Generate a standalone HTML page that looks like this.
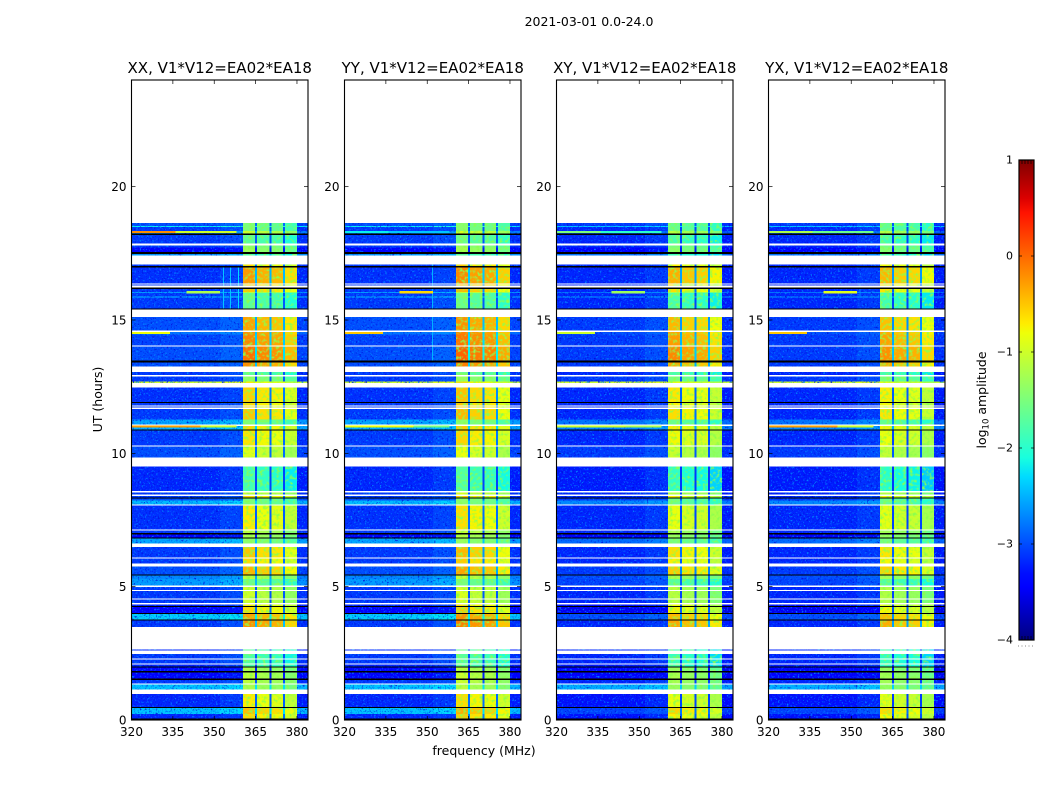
<!DOCTYPE html>
<html>
<head>
<meta charset="utf-8">
<title>Amplitude waterfall 2021-03-01</title>
<style>
html,body{margin:0;padding:0;background:#fff;width:1050px;height:800px;overflow:hidden}
svg{display:block}
text{font-family:"DejaVu Sans","Liberation Sans",sans-serif;fill:#000}
</style>
</head>
<body>
<svg id="fig" xmlns="http://www.w3.org/2000/svg" width="1050" height="800" viewBox="0 0 1050 800">
  <defs>
    <linearGradient id="jetGradient" x1="0" y1="1" x2="0" y2="0"></linearGradient>
    <filter id="lowNoise" filterUnits="userSpaceOnUse" x="0" y="0" width="1050" height="800" color-interpolation-filters="sRGB">
      <feTurbulence type="fractalNoise" baseFrequency="0.55" numOctaves="2" seed="7" result="t"/>
      <feColorMatrix in="t" type="matrix" values="0 0 0 0 0  0 0 0 0 0.5  0 0 0 0 1  5 0 0 0 -2.85" result="lightSpeck"/>
      <feColorMatrix in="t" type="matrix" values="0 0 0 0 0  0 0 0 0 0.05  0 0 0 0 0.85  0 4 0 0 -2.3" result="darkSpeck"/>
      <feMerge result="specks"><feMergeNode in="darkSpeck"/><feMergeNode in="lightSpeck"/></feMerge>
      <feComposite in="specks" in2="SourceAlpha" operator="in" result="clipped"/>
      <feMerge><feMergeNode in="SourceGraphic"/><feMergeNode in="clipped"/></feMerge>
    </filter>
    <filter id="bandNoise" filterUnits="userSpaceOnUse" x="0" y="0" width="1050" height="800" color-interpolation-filters="sRGB">
      <feTurbulence type="fractalNoise" baseFrequency="0.3" numOctaves="2" seed="11" result="t"/>
      <feColorMatrix in="t" type="matrix" values="0 0 0 0 0.55  0 0 0 0 1  0 0 0 0 0.3  3 0 0 0 -1.4" result="speck"/>
      <feComposite in="speck" in2="SourceAlpha" operator="in" result="clipped"/>
      <feMerge><feMergeNode in="SourceGraphic"/><feMergeNode in="clipped"/></feMerge>
    </filter>
  </defs>
  <text x="589" y="26" font-size="12.5" text-anchor="middle">2021-03-01 0.0-24.0</text>
  <text transform="translate(102,399.5) rotate(-90)" font-size="12.5" text-anchor="middle">UT (hours)</text>
  <text x="484" y="755" font-size="12.5" text-anchor="middle">frequency (MHz)</text>
  <text transform="translate(986,400) rotate(-90)" font-size="12.5" text-anchor="middle">log<tspan font-size="8.5" dy="2.5">10</tspan><tspan dy="-2.5"> amplitude</tspan></text>
</svg>
<script>
// ---- chart data -----------------------------------------------------------
const panelTitles = ['XX, V1*V12=EA02*EA18','YY, V1*V12=EA02*EA18','XY, V1*V12=EA02*EA18','YX, V1*V12=EA02*EA18'];
const xTickLabels = [320,335,350,365,380];
const yTickLabels = [0,5,10,15,20];
const colorbarTickLabels = [1,0,-1,-2,-3,-4];
const W = null;   // flagged: not plotted
const B = -9;     // zero amplitude: drawn black

// time-bin edges, hours
const timeEdges = [0,.06,.23,.45,.49,.98,1.14,1.33,1.37,1.50,1.56,
 1.79,1.83,1.96,2.01,2.08,2.12,2.26,2.31,2.48,2.61,
 2.65,3.48,3.73,3.77,3.97,4.02,4.23,4.27,4.33,4.38,
 4.51,4.55,4.83,4.87,4.98,5.05,5.28,5.42,5.46,5.75,
 5.87,6.06,6.10,6.48,6.61,6.80,6.84,6.96,7.01,7.10,
 7.15,8.04,8.09,8.24,8.30,8.34,8.40,8.45,8.54,8.58,
 9.51,9.85,10.25,10.29,10.86,10.90,10.97,11.02,11.08,11.27,
 11.66,11.71,11.76,11.80,11.89,11.92,12.46,12.64,12.70,12.89,
 12.93,13.05,13.26,13.41,13.48,14.01,14.05,14.46,14.55,14.61,
 15.11,15.39,15.44,15.84,15.89,16.01,16.05,16.16,16.22,16.30,
 16.34,16.37,16.97,17.02,17.09,17.42,17.47,17.55,17.72,17.79,
 17.87,18.19,18.24,18.34,18.48,18.52,18.63];

// log10 amplitude outside the bright band, parallel hands (XX, YY)
const lowParallel = [B,-3.2,-2.4,B,-3.2,W,-2.4,W,-3.1,B,
 -3.4,B,-3.4,B,-3.2,W,-3.1,W,-3.1,W,
 -3.2,W,-3.1,B,-2.35,B,-3.4,B,-3.2,W,
 -3.1,W,-3.1,W,-3.1,W,-2.6,-2.7,B,-3.0,
 W,-3.1,W,-3.1,W,-2.55,B,-3.4,B,-3.1,
 W,-3.15,W,-2.45,-3.0,B,-3.1,W,-3.1,W,
 -3.2,W,-3.0,W,-3.1,B,-2.5,-2.5,W,-2.55,
 -3.1,W,-3.1,W,-3.1,B,-3.15,W,-1.0,-3.1,
 W,-3.1,W,-3.0,B,-3.0,W,-3.05,-2.8,W,
 -3.0,W,B,-3.1,-2.4,-3.1,-2.6,-3.1,B,W,
 -3.1,W,-3.15,B,-3.1,W,-2.6,B,-3.4,-3.1,
 W,-3.1,B,-2.7,-3.1,-2.2,-3.0];

// log10 amplitude outside the bright band, cross hands (XY, YX)
const lowCross = [B,-3.3,-3.05,B,-3.3,W,-2.5,W,-3.2,B,
 -3.45,B,-3.45,B,-3.25,W,-3.2,W,-3.2,W,
 -3.2,W,-3.2,B,-3.0,B,-3.5,B,-3.3,W,
 -3.2,W,-3.2,W,-3.2,W,-3.05,-3.0,B,-3.1,
 W,-3.2,W,-3.2,W,-2.85,B,-3.45,B,-3.2,
 W,-3.2,W,-2.7,-3.1,B,-3.2,W,-3.2,W,
 -3.25,W,-3.1,W,-3.2,B,-2.7,-2.7,W,-2.8,
 -3.2,W,-3.2,W,-3.2,B,-3.2,W,-1.0,-3.1,
 W,-3.2,W,-3.1,B,-3.1,W,-3.1,-3.0,W,
 -3.1,W,B,-3.2,-2.6,-3.2,-2.8,-3.2,B,W,
 -3.2,W,-3.2,B,-3.2,W,-2.8,B,-3.4,-3.2,
 W,-3.2,B,-2.9,-3.2,-2.4,-3.1];

// log10 amplitude inside the bright band (XX reference, before shift)
const bandLevel = [B,-.9,-.75,B,-1.0,W,-1.5,W,-1.4,B,
 -1.4,B,-1.5,B,-2.1,W,-2.1,W,-2.1,W,
 -2.1,W,-.5,B,-.6,B,-.9,B,-1.0,W,
 -1.3,W,-1.3,W,-1.3,W,-1.9,-1.4,B,-.7,
 W,-.9,W,-.8,W,-1.7,B,-1.5,B,-1.4,
 W,-1.0,W,-1.8,-1.8,B,-.9,W,-1.3,W,
 -2.15,W,-1.2,W,-.95,B,-.9,-.9,W,-1.8,
 -.8,W,-.9,W,-.9,B,-.85,W,-1.0,-1.7,
 W,-2.0,W,-.5,B,-.35,W,-.45,-.5,W,
 -.6,W,B,-2.0,-2.0,-2.0,-1.4,-.8,B,W,
 -.8,W,-.55,B,-.9,W,-2.1,B,-1.6,-1.7,
 W,-2.0,B,-1.3,-1.8,-1.8,-1.8];

// per-polarisation shift of the bright band
const panelBandShift = [0.18,0.26,0.06,0.02];

// frequency channels, MHz: outer regions and the four sub-bands with gaps
const channelEdges = [320,352,360.4,364.8,365.5,370,370.7,375,375.7,380,384];
const channelKind = ['low','low','band','gap','band','gap','band','gap','band','low'];
const channelOffset = [0,0.1,0.12,0,0,0,-0.05,0,-0.25,-0.05];

// narrow-band interference streaks
const rfiHour = [18.29,18.29,14.5,11.0,11.0,16.03];
const rfiFrom = [320,336,320,320,345,340];
const rfiTo   = [336,358,334,345,358,352];
const rfiXX = [-0.2,-1.0,-0.8,-0.3,-1.0,-1.2];
const rfiYY = [-2.2,-2.4,-0.5,-0.8,-1.5,-0.6];
const rfiXY = [-1.5,-2.0,-1.0,-1.0,-1.2,-1.3];
const rfiYX = [-1.2,-1.6,-0.5,-0.3,-1.0,-0.9];

// persistent vertical interference
const vlineMHz   = [353.2,355.8,358.7,351.7,353];
const vlinePanel = [0,0,0,1,3];
const vlineStart = [15.44,15.44,15.44,13.4,15.5];
const vlineEnd   = [16.97,16.97,16.97,17.1,16.9];
const vlineAmp   = [-2.4,-2.4,-2.3,-2.5,-2.7];

// ---- layout ---------------------------------------------------------------
const panelLefts = [131.5,344.5,556.5,768.5];
const panelWidth = 176.5, plotTop = 80, plotBottom = 720;
const freqMin = 320, freqMax = 384, hourMax = 24;
const cbarLeft = 1019, cbarRight = 1034, cbarTop = 160, cbarBottom = 640;
const NS = 'http://www.w3.org/2000/svg';
const fig = document.getElementById('fig');

function xScale(p, mhz){ return panelLefts[p] + (mhz - freqMin) / (freqMax - freqMin) * panelWidth; }
function yScale(h){ return plotBottom - h / hourMax * (plotBottom - plotTop); }
function cbarScale(v){ return cbarBottom - (v + 4) / 5 * (cbarBottom - cbarTop); }

function ramp(t, pts){
  for (let i = 1; i < pts.length; i++) {
    if (t <= pts[i][0]) {
      const a = pts[i-1], b = pts[i];
      return a[1] + (b[1]-a[1]) * (t-a[0]) / (b[0]-a[0]);
    }
  }
  return pts[pts.length-1][1];
}
function jet(v){
  const t = Math.max(0, Math.min(1, (v + 4) / 5));
  const r = ramp(t, [[0,0],[.35,0],[.66,1],[.89,1],[1,.5]]);
  const g = ramp(t, [[0,0],[.125,0],[.375,1],[.64,1],[.91,0],[1,0]]);
  const b = ramp(t, [[0,.5],[.11,1],[.34,1],[.65,0],[1,0]]);
  return 'rgb(' + Math.round(r*255) + ',' + Math.round(g*255) + ',' + Math.round(b*255) + ')';
}
function svgEl(tag, parent){
  const el = document.createElementNS(NS, tag);
  parent.appendChild(el);
  return el;
}
function drawRect(parent, x, y, w, h, fill, name){
  const el = svgEl('rect', parent);
  el.setAttribute('x', x.toFixed(2));
  el.setAttribute('y', y.toFixed(2));
  el.setAttribute('width', w.toFixed(2));
  el.setAttribute('height', h.toFixed(2));
  el.setAttribute('fill', fill);
  el.setAttribute('shape-rendering', 'crispEdges');
  
  
  return el;
}
function drawLine(parent, x1, y1, x2, y2, width, name){
  const el = svgEl('line', parent);
  el.setAttribute('x1', x1);
  el.setAttribute('y1', y1);
  el.setAttribute('x2', x2);
  el.setAttribute('y2', y2);
  el.setAttribute('stroke', '#000');
  el.setAttribute('stroke-width', width);
  
  
  return el;
}
function drawText(parent, x, y, str, size, anchor, name){
  const el = svgEl('text', parent);
  el.setAttribute('x', x);
  el.setAttribute('y', y);
  el.setAttribute('font-size', size);
  el.setAttribute('text-anchor', anchor);
  el.textContent = str;
  
  
  return el;
}

// ---- heatmap layers -------------------------------------------------------
const lowLayer = svgEl('g', fig);
lowLayer.setAttribute('filter', 'url(#lowNoise)');


const bandLayer = svgEl('g', fig);
bandLayer.setAttribute('filter', 'url(#bandNoise)');


const lineLayer = svgEl('g', fig);



const rfiSeries = [rfiXX, rfiYY, rfiXY, rfiYX];

panelTitles.forEach(function(title, p){
  const lows = p < 2 ? lowParallel : lowCross;
  for (let s = 0; s < timeEdges.length - 1; s++) {
    const low = lows[s], band = bandLevel[s];
    if (low === null) continue;
    const yTop = yScale(timeEdges[s+1]);
    const yBot = yScale(timeEdges[s]);
    if (low === B) {
      drawRect(lineLayer, panelLefts[p], yTop, panelWidth, Math.max(1, yBot - yTop), '#000', 'flagged-row');
      continue;
    }
    for (let c = 0; c < channelKind.length; c++) {
      const x0 = xScale(p, channelEdges[c]);
      const x1 = xScale(p, channelEdges[c+1]);
      const kind = channelKind[c];
      let v, layer;
      if (kind === 'low') {
        v = low + channelOffset[c];
        layer = lowLayer;
      } else if (kind === 'gap') {
        v = Math.max(low + 0.15, band + panelBandShift[p] - 2.1);
        layer = lineLayer;
      } else {
        v = band + panelBandShift[p] + channelOffset[c];
        layer = bandLayer;
      }
      drawRect(layer, x0, yTop, x1 - x0, yBot - yTop, jet(v), 'heatmap-cell');
    }
    for (let k = 0; k < vlineMHz.length; k++) {
      if (vlinePanel[k] === p && timeEdges[s] >= vlineStart[k] && timeEdges[s+1] <= vlineEnd[k]) {
        drawRect(lineLayer, xScale(p, vlineMHz[k]), yTop, 1, yBot - yTop, jet(vlineAmp[k]), 'vertical-interference');
      }
    }
  }
  rfiHour.forEach(function(h, r){
    const x0 = xScale(p, rfiFrom[r]);
    drawRect(lineLayer, x0, yScale(h + 0.05), xScale(p, rfiTo[r]) - x0, 2.2, jet(rfiSeries[p][r]), 'interference-streak');
  });
});

// ---- axes -----------------------------------------------------------------
panelTitles.forEach(function(title, p){
  const axis = svgEl('g', fig);
  
  
  const left = panelLefts[p], right = left + panelWidth;
  const frame = svgEl('rect', axis);
  frame.setAttribute('x', left);
  frame.setAttribute('y', plotTop);
  frame.setAttribute('width', panelWidth);
  frame.setAttribute('height', plotBottom - plotTop);
  frame.setAttribute('fill', 'none');
  frame.setAttribute('stroke', '#000');
  frame.setAttribute('stroke-width', '1.1');
  
  
  drawText(axis, left + panelWidth / 2, 73, title, 15, 'middle', 'panel-title');
  xTickLabels.forEach(function(t){
    const x = xScale(p, t);
    drawLine(axis, x, plotBottom, x, plotBottom - 4, 0.7, 'x-tick');
    drawLine(axis, x, plotTop, x, plotTop + 4, 0.7, 'x-tick');
    drawText(axis, x, 736, String(t), 12, 'middle', 'x-tick-label');
  });
  yTickLabels.forEach(function(t){
    const y = yScale(t);
    drawLine(axis, left, y, left + 4, y, 0.7, 'y-tick');
    drawLine(axis, right, y, right - 4, y, 0.7, 'y-tick');
    drawText(axis, left - 5, y + 4.5, String(t), 12, 'end', 'y-tick-label');
  });
});

// ---- colour bar -----------------------------------------------------------
const grad = document.getElementById('jetGradient');
const colorbarStops = [-4,-3.75,-3.45,-3.3,-2.8,-2.3,-2.1,-1.2,-0.8,-0.7,-0.1,0.45,0.6,1];
colorbarStops.forEach(function(v){
  const st = svgEl('stop', grad);
  st.setAttribute('offset', ((v + 4) / 5 * 100).toFixed(2) + '%');
  st.setAttribute('stop-color', jet(v));
});
const cbar = svgEl('g', fig);


const cbarFill = svgEl('rect', cbar);
cbarFill.setAttribute('x', cbarLeft);
cbarFill.setAttribute('y', cbarTop);
cbarFill.setAttribute('width', cbarRight - cbarLeft);
cbarFill.setAttribute('height', cbarBottom - cbarTop);
cbarFill.setAttribute('fill', 'url(#jetGradient)');
cbarFill.setAttribute('stroke', '#000');
cbarFill.setAttribute('stroke-width', '1.2');


colorbarTickLabels.forEach(function(t){
  const y = cbarScale(t);
  drawLine(cbar, cbarLeft, y, cbarLeft + 3, y, 0.7, 'colorbar-tick');
  drawLine(cbar, cbarRight, y, cbarRight - 3, y, 0.7, 'colorbar-tick');
  drawText(cbar, 1013, y + 3.5, String(t).replace('-', '\u2212'), 11, 'end', 'colorbar-tick-label');
});
[1022,1025,1028,1031].forEach(function(x){
  drawLine(cbar, x, cbarTop, x, cbarTop + 4, 0.7, 'colorbar-edge-tick');
  drawLine(cbar, x, cbarBottom, x, cbarBottom - 4, 0.7, 'colorbar-edge-tick');
});
const dots = svgEl('line', cbar);
dots.setAttribute('x1', 1018);
dots.setAttribute('y1', 646);
dots.setAttribute('x2', 1035);
dots.setAttribute('y2', 646);
dots.setAttribute('stroke', '#888');
dots.setAttribute('stroke-width', '1');
dots.setAttribute('stroke-dasharray', '1 2.5');


</script>
</body>
</html>
